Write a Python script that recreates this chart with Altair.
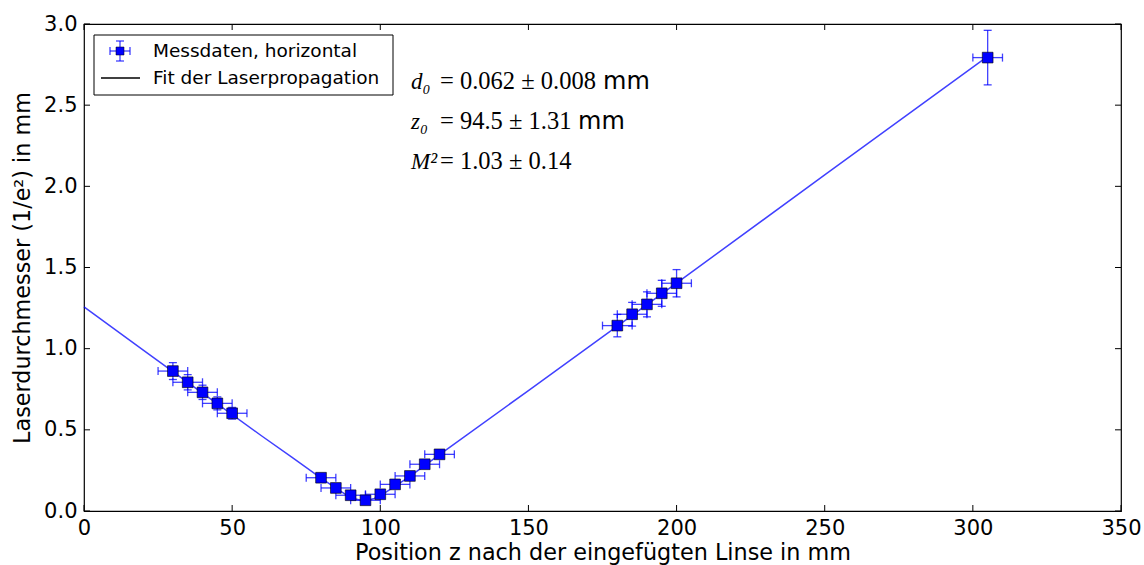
import altair as alt
import pandas as pd

# measured data
z = [30, 35, 40, 45, 50, 80, 85, 90, 95, 100, 105, 110, 115, 120, 180, 185, 190, 195, 200, 305]
d = [0.862, 0.793, 0.731, 0.663, 0.602, 0.205, 0.142, 0.097, 0.066, 0.103, 0.164, 0.216, 0.288, 0.349,
     1.142, 1.212, 1.273, 1.341, 1.403, 2.793]
xerr = [5] * 20
yerr = [0.052, 0.047, 0.044, 0.040, 0.036, 0.012, 0.009, 0.006, 0.004, 0.006, 0.010, 0.013, 0.017, 0.021,
        0.069, 0.073, 0.077, 0.080, 0.084, 0.168]

# fit curve
fit_z = [0, 20, 40, 60, 70, 80, 85, 88, 91, 94.5, 98, 101, 104, 110, 120, 150, 200, 250, 305]
fit_d = [1.257, 0.991, 0.726, 0.462, 0.334, 0.203, 0.141, 0.106, 0.077, 0.062, 0.077, 0.106, 0.141,
         0.213, 0.347, 0.742, 1.404, 2.07, 2.80]

x_ticks = [0, 50, 100, 150, 200, 250, 300, 350]
y_ticks = [0.0, 0.5, 1.0, 1.5, 2.0, 2.5, 3.0]

ann_vars = ["d\u2080", "z\u2080", "M\u00b2"]
ann_vals = ["= 0.062 \u00b1 0.008", "= 94.5 \u00b1 1.31", "= 1.03 \u00b1 0.14"]
ann_units = ["mm", "mm", ""]
ann_unit_x = [519, 494, 494]
ann_y = [58, 98, 138]
legend_labels = ["Messdaten, horizontal", "Fit der Laserpropagation"]

W, H = 1037, 487
XT = "Position z nach der eingefügten Linse in mm"
YT = "Laserdurchmesser (1/e²) in mm"

xs = alt.Scale(domain=[0, 350], nice=False, zero=False)
ys = alt.Scale(domain=[0, 3], nice=False, zero=False)

def X(f):
    return alt.X(f, type="quantitative", scale=xs, title=XT,
                 axis=alt.Axis(values=x_ticks, labelPadding=6, labelFlush=False, titleY=41, titleX=W / 2,
                               titleBaseline="middle"))

def Y(f):
    return alt.Y(f, type="quantitative", scale=ys, title=YT,
                 axis=alt.Axis(values=y_ticks, format=".1f", labelPadding=7, labelFlush=False,
                               titleX=-62, titleY=H / 2,
                               titleBaseline="middle", titleAngle=270, titleAlign="center"))

df = pd.DataFrame({"z": z, "d": d, "xerr": xerr, "yerr": yerr})
df["zl"] = df.z - df.xerr
df["zh"] = df.z + df.xerr
df["dl"] = df.d - df.yerr
df["dh"] = df.d + df.yerr
fit = pd.DataFrame({"z": fit_z, "d": fit_d})
xt = pd.DataFrame({"v": x_ticks})
yt = pd.DataFrame({"v": y_ticks})
one = pd.DataFrame({"a": [0]})

BLUE = "#0000ff"
EB = dict(color=BLUE, opacity=0.75, strokeWidth=1.3)
CAP = dict(size=8, thickness=1.3, color=BLUE, opacity=0.75)

line = alt.Chart(fit).mark_line(color=BLUE, opacity=0.75, strokeWidth=1.5).encode(x=X("z"), y=Y("d"))
base = alt.Chart(df)
hbar = base.mark_rule(**EB).encode(x=X("zl"), x2="zh", y=Y("d"))
vbar = base.mark_rule(**EB).encode(x=X("z"), y=Y("dl"), y2="dh")
cap_l = base.mark_tick(orient="vertical", **CAP).encode(x=X("zl"), y=Y("d"))
cap_r = base.mark_tick(orient="vertical", **CAP).encode(x=X("zh"), y=Y("d"))
cap_b = base.mark_tick(orient="horizontal", **CAP).encode(x=X("z"), y=Y("dl"))
cap_t = base.mark_tick(orient="horizontal", **CAP).encode(x=X("z"), y=Y("dh"))
pts = base.mark_square(size=115, color=BLUE, opacity=1, stroke="black", strokeWidth=0.6).encode(x=X("z"), y=Y("d"))

TL = 6
tb = alt.Chart(xt).mark_rule(color="black").encode(x=X("v"), y=alt.value(H), y2=alt.value(H - TL))
tt = alt.Chart(xt).mark_rule(color="black").encode(x=X("v"), y=alt.value(0), y2=alt.value(TL))
tl = alt.Chart(yt).mark_rule(color="black").encode(y=Y("v"), x=alt.value(0), x2=alt.value(TL))
tr = alt.Chart(yt).mark_rule(color="black").encode(y=Y("v"), x=alt.value(W), x2=alt.value(W - TL))

# annotations
adf = pd.DataFrame({"var": ann_vars, "val": ann_vals, "unit": ann_units, "ux": ann_unit_x, "yy": ann_y})
a_var = alt.Chart(adf).mark_text(
    align="left", baseline="middle", font="Liberation Serif", fontStyle="italic", fontSize=23, color="black"
).encode(x=alt.value(327), y=alt.Y("yy:Q", scale=None), text="var:N")
a_val = alt.Chart(adf).mark_text(
    align="left", baseline="middle", font="Liberation Serif", fontSize=24.5, color="black"
).encode(x=alt.value(356), y=alt.Y("yy:Q", scale=None), text="val:N")
a_unit = alt.Chart(adf).mark_text(
    align="left", baseline="middle", font="DejaVu Sans", fontSize=24, color="black"
).encode(x=alt.X("ux:Q", scale=None), y=alt.Y("yy:Q", scale=None), text="unit:N")

# legend
lbox = alt.Chart(one).mark_rect(fill="white", stroke="black", strokeWidth=1).encode(
    x=alt.value(10), x2=alt.value(309), y=alt.value(11), y2=alt.value(71))
l_h = alt.Chart(one).mark_rule(**EB).encode(x=alt.value(26), x2=alt.value(46), y=alt.value(27))
l_v = alt.Chart(one).mark_rule(**EB).encode(x=alt.value(36), y=alt.value(17), y2=alt.value(37))
l_ch = alt.Chart(one).mark_rule(**EB).encode(x=alt.value(32), x2=alt.value(40), y=alt.value(17))
l_cb = alt.Chart(one).mark_rule(**EB).encode(x=alt.value(32), x2=alt.value(40), y=alt.value(37))
l_cl = alt.Chart(one).mark_rule(**EB).encode(y=alt.value(23), y2=alt.value(31), x=alt.value(26))
l_cr = alt.Chart(one).mark_rule(**EB).encode(y=alt.value(23), y2=alt.value(31), x=alt.value(46))
l_pt = alt.Chart(one).mark_square(size=64, color=BLUE, opacity=1, stroke="black", strokeWidth=0.5).encode(
    x=alt.value(36), y=alt.value(27))
l_ln = alt.Chart(one).mark_rule(color="black", strokeWidth=1.3).encode(x=alt.value(17), x2=alt.value(56), y=alt.value(54))
l_txt = alt.Chart(pd.DataFrame({"t": legend_labels, "yy": [27, 54]})).mark_text(
    align="left", baseline="middle", font="DejaVu Sans", fontSize=18.5, color="black"
).encode(x=alt.value(69), y=alt.Y("yy:Q", scale=None), text="t:N")

chart = alt.layer(
    line, hbar, vbar, cap_l, cap_r, cap_b, cap_t, pts,
    tb, tt, tl, tr, a_var, a_val, a_unit,
    lbox, l_h, l_v, l_ch, l_cb, l_cl, l_cr, l_pt, l_ln, l_txt
).properties(
    width=W, height=H,
    padding={"left": 84, "top": 24, "right": 23, "bottom": 54},
    autosize=alt.AutoSizeParams(type="none"),
).configure_view(stroke="black", strokeWidth=1.2).configure_axis(
    domain=False, ticks=False, grid=False, labelFont="DejaVu Sans", labelFontSize=21, labelColor="black",
    titleFont="DejaVu Sans", titleFontSize=22.3, titleFontWeight="normal", titleColor="black"
)

chart.save("out.html", embed_options={"renderer": "svg", "actions": False})
